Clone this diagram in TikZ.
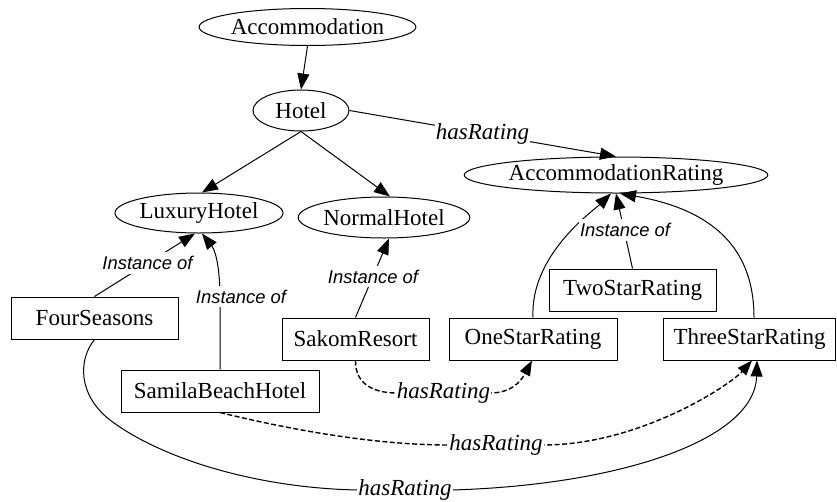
\documentclass[tikz,border=0pt]{standalone}
\usepackage{fontspec}
\setmainfont{Liberation Serif}
\newfontfamily\labelsans{Liberation Sans}
\usetikzlibrary{shapes.geometric,arrows.meta}

\begin{document}
\begin{tikzpicture}[x=1pt,y=-1pt,
  every node/.style={font=\fontsize{23}{27}\selectfont, inner sep=0pt},
  cls/.style={draw, ellipse, line width=1pt},
  ind/.style={draw, rectangle, line width=1pt, minimum height=42pt},
  relarrow/.style={line width=1pt, -{Triangle[length=16pt,width=12pt]}},
  dashrel/.style={relarrow, line width=1.4pt, dash pattern=on 5pt off 2.5pt,
    -{Triangle[length=15pt,width=11pt]}},
  inst/.style={fill=white, font=\labelsans\itshape\fontsize{18.4}{22}\selectfont, inner xsep=1pt, inner ysep=4pt},
  prop/.style={fill=white, font=\itshape\fontsize{23}{27}\selectfont, inner xsep=1pt, inner ysep=1pt}]

\useasboundingbox (0,0) rectangle (837,501);

% classes
\node[cls, minimum width=199pt, minimum height=37pt] (acc) at (307.5,27) {Accommodation};
\node[cls, minimum width=96pt, minimum height=41pt] (hotel) at (301,110.5) {Hotel};
\node[cls, minimum width=168pt, minimum height=40pt] (lux) at (199,213) {LuxuryHotel};
\node[cls, minimum width=154pt, minimum height=41pt] (normal) at (384,217.5) {NormalHotel};
\node[cls, minimum width=274pt, minimum height=36pt] (accr) at (616,175) {AccommodationRating};

% individuals
\node[ind, minimum width=167pt] (four) at (94.5,318) {FourSeasons};
\node[ind, minimum width=198pt] (samila) at (220,391) {SamilaBeachHotel};
\node[ind, minimum width=147pt] (sakom) at (355.5,339) {SakomResort};
\node[ind, minimum width=168pt] (one) at (533,339) {OneStarRating};
\node[ind, minimum width=167pt] (two) at (632.5,290) {TwoStarRating};
\node[ind, minimum width=172pt] (three) at (749.5,339) {ThreeStarRating};

% subclass links
\draw[relarrow] (acc.south) -- (hotel.north);
\draw[relarrow] (hotel.south) -- ([xshift=3pt]lux.north);
\draw[relarrow] (hotel.south) -- ([xshift=6pt]normal.north);
\draw[relarrow] (hotel.east) -- (accr.north);

% instance links
\draw[relarrow] (four.north) -- ([xshift=-4pt]lux.south);
\draw[relarrow] (samila.north) -- (220,300) .. controls (220,265) and (215,250) .. ([xshift=3pt]lux.south);
\draw[relarrow] (sakom.north) -- ([xshift=5pt]normal.south);
\draw[relarrow] (one.north) .. controls (530,255) and (593,211) .. ([xshift=-5pt]accr.south);
\draw[relarrow] (two.north) -- (accr.south);
\draw[relarrow] ([xshift=4.5pt]three.north) .. controls (754,250) and (715,210) .. ([xshift=4pt]accr.south);

% rating links
\draw[dashrel] (sakom.south) .. controls (355,385) and (375,393) .. (397,393) -- (490,393)
  .. controls (510,393) and (520,383) .. ([xshift=-1pt]one.south);
\draw[dashrel] (samila.south) .. controls (300,432) and (380,445) .. (449,445) -- (543,445)
  .. controls (640,445) and (730,385) .. ([xshift=2.5pt]three.south);
\draw[relarrow] (four.south) .. controls (78,360) and (78,395) .. (110,420)
  .. controls (160,458) and (255,488) .. (358,490) -- (452,490)
  .. controls (620,485) and (755,440) .. ([xshift=7.5pt]three.south);

% edge labels
\node[prop] (lhr) at (482.5,134) {hasRating};
\node[inst] (li1) at (147.5,263) {Instance of};
\node[inst] (li2) at (241,296.5) {Instance of};
\node[inst] (li3) at (373,276.5) {Instance of};
\node[inst] (li4) at (625,230) {Instance of};
\node[prop] (lr1) at (443.5,393) {hasRating};
\node[prop] (lr2) at (496,445) {hasRating};
\node[prop] (lr3) at (405,490) {hasRating};
\end{tikzpicture}
\end{document}
